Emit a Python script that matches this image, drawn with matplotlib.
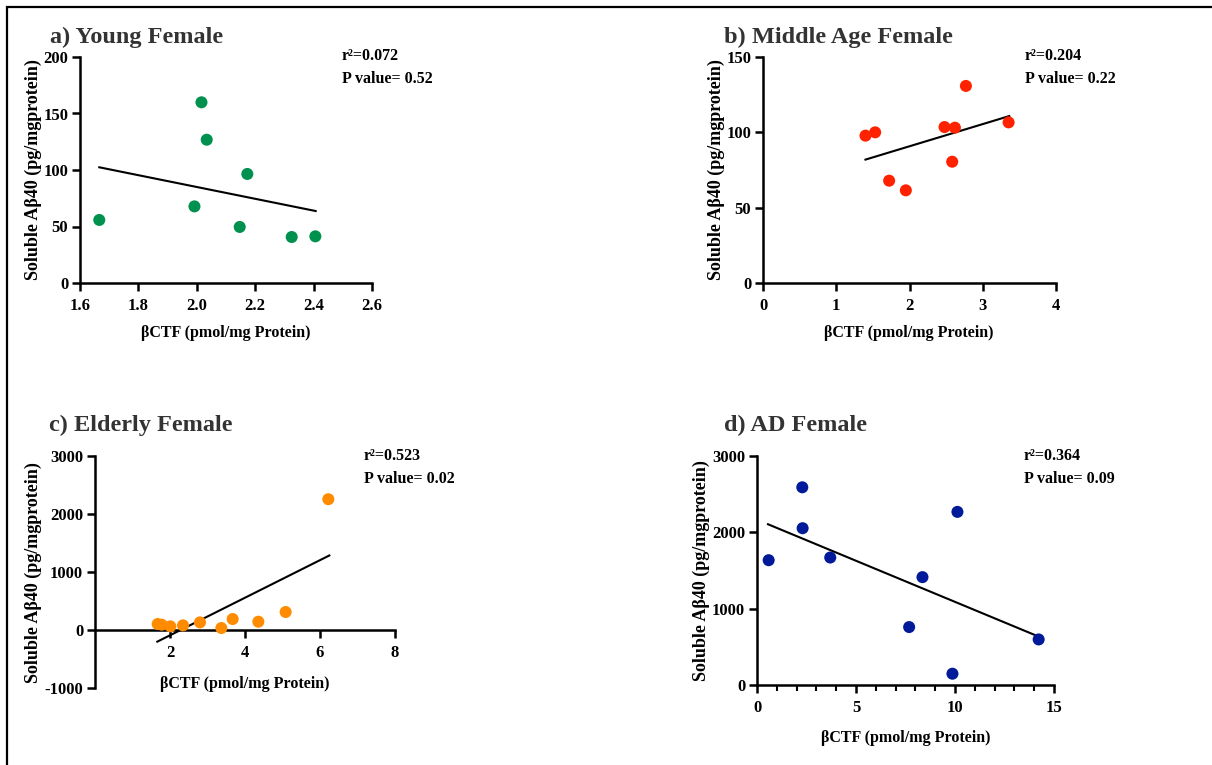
import matplotlib
matplotlib.use("Agg")
from matplotlib import pyplot as plt
from matplotlib.patches import Rectangle
from matplotlib.ticker import MultipleLocator

# values
young_x = [1.666, 2.016, 2.034, 2.173, 1.992, 2.147, 2.325, 2.406]
young_y = [55.8, 159.9, 126.8, 96.5, 67.8, 49.6, 40.7, 41.3]
young_fit_x = [1.666, 2.407]
young_fit_y = [102.4, 63.7]

middle_x = [1.399, 1.531, 1.722, 1.950, 2.478, 2.620, 2.583, 2.770, 3.353]
middle_y = [97.8, 100.0, 67.9, 61.5, 103.5, 103.1, 80.5, 130.8, 106.6]
middle_fit_x = [1.399, 3.362]
middle_fit_y = [81.9, 110.8]

elderly_x = [1.671, 1.778, 2.009, 2.347, 2.800, 3.369, 3.671, 4.356, 5.084, 6.222]
elderly_y = [103, 92, 63, 80, 132, 34, 189, 143, 310, 2255]
elderly_fit_x = [1.662, 6.249]
elderly_fit_y = [-201, 1285]

ad_x = [0.589, 2.287, 2.304, 3.699, 8.357, 7.684, 10.123, 9.871, 14.225]
ad_y = [1635, 2590, 2054, 1670, 1413, 759, 2268, 148, 597]
ad_fit_x = [0.555, 14.125]
ad_fit_y = [2106, 645]

titles = ["a) Young Female", "b) Middle Age Female", "c) Elderly Female", "d) AD Female"]
stats = [("0.072", "0.52"), ("0.204", "0.22"), ("0.523", "0.02"), ("0.364", "0.09")]
colors = ["#00914f", "#ff2200", "#ff8c00", "#001a99"]

XLABEL = "βCTF (pmol/mg Protein)"
YLABEL = "Soluble Aβ40 (pg/mgprotein)"

plt.rcParams["font.family"] = ["Liberation Serif", "DejaVu Serif"]
plt.rcParams["font.weight"] = "bold"
plt.rcParams["axes.labelweight"] = "bold"
plt.rcParams["axes.unicode_minus"] = False

W, H = 1212, 765
fig = plt.figure(figsize=(W / 100, H / 100), dpi=100)


def px_axes(x0, x1, y0, y1):
    # pixel box -> figure fraction
    return fig.add_axes([x0 / W, (H - y1) / H, (x1 - x0) / W, (y1 - y0) / H])


def draw(ax, x, y, fx, fy, color):
    ax.scatter(x, y, s=75, color=color, edgecolors="none", zorder=3, clip_on=False)
    ax.plot(fx, fy, color="black", lw=1.5, zorder=2, clip_on=False)


axes = [
    px_axes(80, 372, 57, 283),
    px_axes(763, 1056, 57, 283),
    px_axes(95, 395, 456, 688),
    px_axes(757, 1054, 456, 685),
]
data = [
    (young_x, young_y, young_fit_x, young_fit_y),
    (middle_x, middle_y, middle_fit_x, middle_fit_y),
    (elderly_x, elderly_y, elderly_fit_x, elderly_fit_y),
    (ad_x, ad_y, ad_fit_x, ad_fit_y),
]

for ax, d, c in zip(axes, data, colors):
    for s in ["top", "right"]:
        ax.spines[s].set_visible(False)
    for s in ["left", "bottom"]:
        ax.spines[s].set_linewidth(1.8)
    ax.tick_params(direction="out", length=5.5, width=1.8, labelsize=12)
    ax.tick_params(axis="x", pad=5)
    ax.tick_params(axis="y", pad=3)
    draw(ax, *d, c)

# a) young
ax = axes[0]
ax.set_xlim(1.6, 2.6)
ax.set_ylim(0, 200)
ax.set_xticks([1.6, 1.8, 2.0, 2.2, 2.4, 2.6])
ax.set_yticks([0, 50, 100, 150, 200])

# b) middle age
ax = axes[1]
ax.set_xlim(0, 4)
ax.set_ylim(0, 150)
ax.set_xticks([0, 1, 2, 3, 4])
ax.set_yticks([0, 50, 100, 150])

# c) elderly, x axis crosses at y=0
ax = axes[2]
ax.set_xlim(0, 8)
ax.set_ylim(-1000, 3000)
ax.spines["bottom"].set_position(("data", 0))
ax.set_xticks([2, 4, 6, 8])
ax.set_yticks([-1000, 0, 1000, 2000, 3000])

# d) AD
ax = axes[3]
ax.set_xlim(0, 15)
ax.set_ylim(0, 3000)
ax.set_xticks([0, 5, 10, 15])
ax.xaxis.set_minor_locator(MultipleLocator(1))
ax.tick_params(axis="x", which="minor", direction="out", length=4, width=1.5)
ax.set_yticks([0, 1000, 2000, 3000])

ylab_pos = [(-0.161, 0.5), (-0.160, 0.5), (-0.207, 0.496), (-0.189, 0.498)]
xlab_pos = [(0.498, -0.221), (0.498, -0.221), (0.5, 0.017), (0.502, -0.231)]
for ax, yp, xp in zip(axes, ylab_pos, xlab_pos):
    ax.set_ylabel(YLABEL, fontsize=13, va="center")
    ax.yaxis.set_label_coords(*yp)
    ax.set_xlabel(XLABEL, fontsize=11.5, va="center")
    ax.xaxis.set_label_coords(*xp)

# panel titles and stats
title_pos = [(50, 43), (724, 43), (49, 431), (724, 431)]
stat_pos = [(342, 60), (1025, 60), (364, 460), (1024, 460)]
for t, (tx, ty), (r2, p), (sx, sy) in zip(titles, title_pos, stats, stat_pos):
    fig.text(tx / W, (H - ty) / H, t, fontsize=17.5, color="#333333", va="baseline", ha="left")
    fig.text(sx / W, (H - sy) / H, "r²=" + r2, fontsize=11.5, va="baseline", ha="left")
    fig.text(sx / W, (H - sy - 23) / H, "P value= " + p, fontsize=11.5, va="baseline", ha="left")

# frame around the whole figure (right and bottom edges run off the image)
fig.patches.append(Rectangle((7 / W, -0.1), 1.2, 1.1 - 7 / H, transform=fig.transFigure,
                             fill=False, lw=1.6, edgecolor="black"))

fig.savefig("out.png", dpi=100)
